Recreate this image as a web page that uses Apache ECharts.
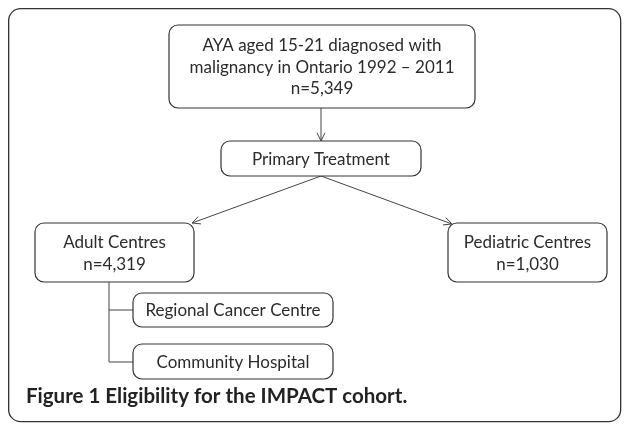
<!DOCTYPE html>
<html>
<head>
<meta charset="utf-8">
<script src="https://cdn.jsdelivr.net/npm/echarts@6/dist/echarts.min.js"></script>
<style>
  html, body { margin: 0; padding: 0; background: #fff; }
  #chart { width: 625px; height: 426px; }
</style>
</head>
<body>
<div id="chart"></div>
<script>
// boxes of the flow diagram (left, top, width, height in diagram units)
const nodeLabels = [
  'AYA aged 15-21 diagnosed with\nmalignancy in Ontario 1992 \u2013 2011\nn=5,349',
  'Primary Treatment',
  'Adult Centres\nn=4,319',
  'Pediatric Centres\nn=1,030',
  'Regional Cancer Centre',
  'Community Hospital'
];
const nodeLeft   = [169, 221, 35, 448, 133, 133];
const nodeTop    = [25, 141, 223, 223, 293, 344];
const nodeWidth  = [306, 200, 159, 159, 200, 200];
const nodeHeight = [83, 35, 59, 59, 34, 35];

// connectors, as point lists
const edgePaths = [
  [[321, 108], [321, 141]],
  [[321, 176], [192, 223]],
  [[321, 176], [452, 224]],
  [[109, 282], [109, 310], [133, 310]],
  [[109, 310], [109, 362], [133, 362]]
];
const edgeArrow = [true, true, true, false, false];

const caption = 'Figure 1 Eligibility for the IMPACT cohort.';

const FONT = 'Lato, "Noto Sans", sans-serif';
const INK = '#2b2b2b';

const chart = echarts.init(document.getElementById('chart'));

function renderNode(params, api) {
  const i = params.dataIndex;
  const p1 = api.coord([api.value(0), api.value(1)]);
  const p2 = api.coord([api.value(0) + api.value(2), api.value(1) + api.value(3)]);
  const w = p2[0] - p1[0], h = p2[1] - p1[1];
  return {
    type: 'group',
    children: [
      { type: 'rect', shape: { x: p1[0], y: p1[1], width: w, height: h, r: 9 },
        style: { fill: '#fff', stroke: '#333', lineWidth: 1.2 } },
      { type: 'text', x: p1[0] + w / 2, y: p1[1] + h / 2 + 1,
        style: { text: nodeLabels[i], align: 'center', verticalAlign: 'middle',
                 font: '17px ' + FONT, fill: INK, lineHeight: 21.5 } }
    ]
  };
}

function renderEdge(params, api) {
  const i = params.dataIndex;
  const pts = edgePaths[i].map(p => api.coord(p));
  const children = [
    { type: 'polyline', shape: { points: pts }, style: { stroke: '#444', lineWidth: 1, fill: null } }
  ];
  if (edgeArrow[i]) {
    const a = pts[pts.length - 2], b = pts[pts.length - 1];
    const ang = Math.atan2(b[1] - a[1], b[0] - a[0]);
    const len = 9, spread = 0.45;
    const l = [b[0] - len * Math.cos(ang - spread), b[1] - len * Math.sin(ang - spread)];
    const r = [b[0] - len * Math.cos(ang + spread), b[1] - len * Math.sin(ang + spread)];
    children.push({ type: 'polyline', shape: { points: [l, b, r] },
                    style: { stroke: '#444', lineWidth: 1, fill: null } });
  }
  return { type: 'group', children };
}

chart.setOption({
  backgroundColor: '#fff',
  animation: false,
  grid: { left: 0, right: 0, top: 0, bottom: 0 },
  xAxis: { type: 'value', min: 0, max: 625, show: false },
  yAxis: { type: 'value', min: 0, max: 426, inverse: true, show: false },
  graphic: [
    { type: 'rect', left: 8, top: 8, z: -1,
      shape: { width: 612, height: 413, r: 12 },
      style: { fill: '#fff', stroke: '#333', lineWidth: 1.3 } },
    { type: 'text', left: 26, top: 386,
      style: { text: caption, font: 'bold 20.5px ' + FONT, fill: '#222' } }
  ],
  series: [
    {
      type: 'custom', name: 'edges', coordinateSystem: 'cartesian2d',
      renderItem: renderEdge,
      data: edgePaths.map((p, i) => [p[0][0], p[0][1], i]),
      z: 1
    },
    {
      type: 'custom', name: 'nodes', coordinateSystem: 'cartesian2d',
      renderItem: renderNode,
      data: nodeLabels.map((_, i) => [nodeLeft[i], nodeTop[i], nodeWidth[i], nodeHeight[i]]),
      z: 2
    }
  ]
});
</script>
</body>
</html>
